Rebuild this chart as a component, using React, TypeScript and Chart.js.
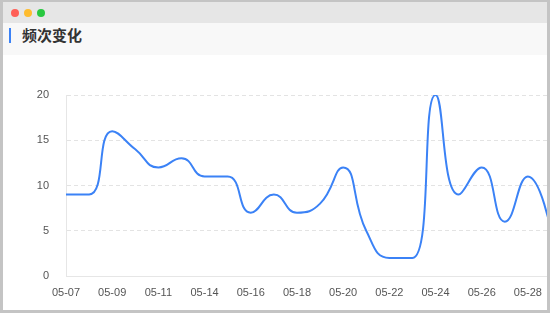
import React, { useEffect, useRef } from "react";
import { Chart, registerables } from "chart.js";

Chart.register(...registerables);

const categories = [
  "05-07", "05-08", "05-09", "05-10", "05-11", "05-12", "05-14", "05-15",
  "05-16", "05-17", "05-18", "05-19", "05-20", "05-21", "05-22", "05-23",
  "05-24", "05-25", "05-26", "05-27", "05-28", "05-29",
];
const frequency = [9, 9, 16, 14, 12, 13, 11, 11, 7, 9, 7, 8, 12, 5, 2, 2, 20, 9, 12, 6, 11, 5];
const yTicks = [0, 5, 10, 15, 20];
const title = "频次变化";

const SMOOTH = 0.5;

// Smooth bezier control points with constraints (no overshoot beyond neighbours)
const smoothCurvePlugin = {
  id: "smoothCurve",
  beforeDatasetDraw: (_chart: any, args: any) => {
    const meta = args.meta;
    const pts = meta.data as any[];
    const n = pts.length;
    if (!n) return;
    const clamp = (v: number, a: number, b: number) => Math.max(Math.min(v, Math.max(a, b)), Math.min(a, b));
    for (let i = 0; i < n; i++) {
      const p = pts[i];
      if (i === 0 || i === n - 1) {
        p.cp1x = p.x; p.cp1y = p.y; p.cp2x = p.x; p.cp2y = p.y;
        continue;
      }
      const prev = pts[i - 1];
      const next = pts[i + 1];
      let vx = next.x - prev.x;
      let vy = next.y - prev.y;
      const lenPrev = Math.hypot(p.x - prev.x, p.y - prev.y);
      const lenNext = Math.hypot(next.x - p.x, next.y - p.y);
      const ratio = lenNext / (lenNext + lenPrev);
      let nx = p.x + vx * SMOOTH * ratio;
      let ny = p.y + vy * SMOOTH * ratio;
      nx = clamp(nx, next.x, p.x);
      ny = clamp(ny, next.y, p.y);
      vx = nx - p.x;
      vy = ny - p.y;
      let cx = p.x - (vx * lenPrev) / lenNext;
      let cy = p.y - (vy * lenPrev) / lenNext;
      cx = clamp(cx, prev.x, p.x);
      cy = clamp(cy, prev.y, p.y);
      vx = p.x - cx;
      vy = p.y - cy;
      nx = p.x + (vx * lenNext) / lenPrev;
      ny = p.y + (vy * lenNext) / lenPrev;
      p.cp1x = cx; p.cp1y = cy; p.cp2x = nx; p.cp2y = ny;
    }
    meta.dataset._pointsUpdated = true;
    meta.dataset._path = undefined;
  },
};

export default function App() {
  const ref = useRef<HTMLCanvasElement | null>(null);

  useEffect(() => {
    if (!ref.current) return;
    const chart = new Chart(ref.current, {
      type: "line",
      data: {
        labels: categories,
        datasets: [
          {
            data: frequency,
            borderColor: "#3b82f6",
            borderWidth: 2,
            pointRadius: 0,
            pointHoverRadius: 0,
            fill: false,
            tension: 0.5,
          },
        ],
      },
      options: {
        responsive: false,
        animation: false,
        events: [],
        layout: { padding: { top: 40, right: 52, bottom: 0, left: 0 } },
        plugins: { legend: { display: false }, tooltip: { enabled: false } },
        scales: {
          x: {
            offset: false,
            grid: { display: false, drawTicks: false },
            border: { display: true, color: "#e6e6e6" },
            afterFit: (s: any) => {
              s.height = 34;
            },
            ticks: {
              autoSkip: false,
              maxRotation: 0,
              padding: 10,
              color: "#555",
              font: { family: "'Liberation Sans', Arial, sans-serif", size: 11 },
              callback: (_v: any, i: number) => (i % 2 === 0 ? categories[i] : ""),
            },
          },
          y: {
            min: yTicks[0],
            max: yTicks[yTicks.length - 1],
            afterFit: (s: any) => {
              s.width = 63;
            },
            afterBuildTicks: (s: any) => {
              s.ticks = yTicks.map((v) => ({ value: v }));
            },
            grid: { color: "#e3e3e3", drawTicks: false, lineWidth: 1 },
            border: { display: true, color: "#e6e6e6", dash: [4, 3] },
            ticks: {
              padding: 17,
              color: "#555",
              font: { family: "'Liberation Sans', Arial, sans-serif", size: 11 },
            },
          },
        },
      },
      plugins: [smoothCurvePlugin],
    } as any);
    return () => chart.destroy();
  }, []);

  return (
    <div
      style={{
        position: "fixed",
        left: 0,
        top: 0,
        width: 550,
        height: 313,
        boxSizing: "border-box",
        borderLeft: "3px solid #c4c4c4",
        borderRight: "3px solid #c4c4c4",
        borderBottom: "3px solid #c4c4c4",
        borderTop: "2px solid #c4c4c4",
        background: "#fff",
        overflow: "hidden",
        fontFamily: "'Noto Sans CJK SC', sans-serif",
      }}
    >
      <div style={{ position: "absolute", left: 0, top: 0, right: 0, height: 21, background: "#e6e6e6" }}>
        <span style={{ position: "absolute", left: 8, top: 7, width: 8, height: 8, borderRadius: 4, background: "#ff5f57" }} />
        <span style={{ position: "absolute", left: 21, top: 7, width: 8, height: 8, borderRadius: 4, background: "#febc2e" }} />
        <span style={{ position: "absolute", left: 34, top: 7, width: 8, height: 8, borderRadius: 4, background: "#28c840" }} />
      </div>
      <div style={{ position: "absolute", left: 0, top: 21, right: 0, height: 32, background: "#f8f8f8" }}>
        <span style={{ position: "absolute", left: 6, top: 5, width: 2, height: 15, background: "#3b82f6" }} />
        <span
          style={{
            position: "absolute",
            left: 19,
            top: 2,
            fontSize: 15,
            fontWeight: 700,
            color: "#333",
            lineHeight: "20px",
          }}
        >
          {title}
        </span>
      </div>
      <canvas
        ref={ref}
        width={600}
        height={255}
        style={{ position: "absolute", left: 0, top: 53, width: 600, height: 255 }}
      />
    </div>
  );
}
